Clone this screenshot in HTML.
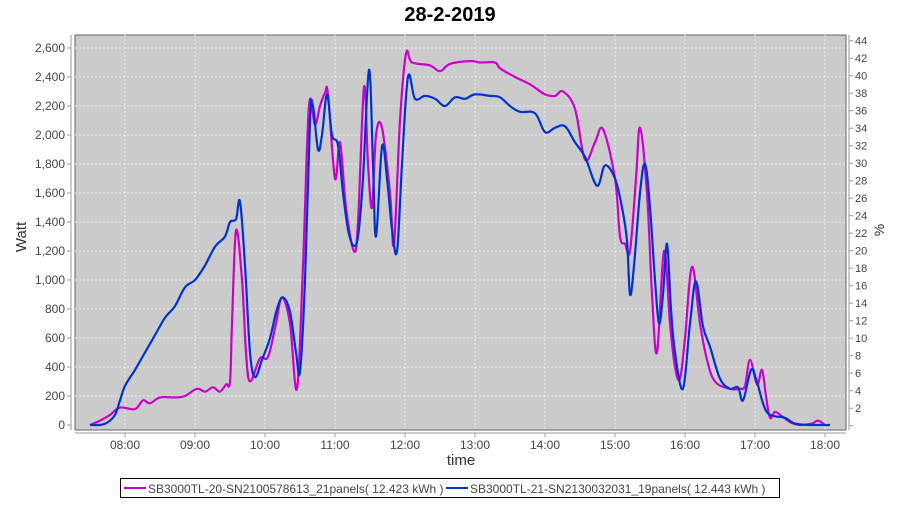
<!DOCTYPE html>
<html><head><meta charset="utf-8"><style>
body{margin:0;background:#fff;width:900px;height:500px;overflow:hidden;font-family:"Liberation Sans",sans-serif}
</style></head><body>
<svg id="s" width="900" height="500" xmlns="http://www.w3.org/2000/svg" font-family="Liberation Sans, sans-serif">
<text x="450" y="21" text-anchor="middle" font-size="20" font-weight="bold">28-2-2019</text>
<rect x="75" y="35" width="771" height="395" fill="#cbcbcb" stroke="#666" stroke-width="1"/>
<g id="grid" stroke="#eee" stroke-dasharray="2,2" stroke-width="1"></g>
<line x1="71" y1="35" x2="71" y2="430" stroke="#999"/>
<line x1="849" y1="35" x2="849" y2="430" stroke="#999"/>
<line x1="75" y1="433" x2="846" y2="433" stroke="#999"/>
<g id="lab" font-size="12" fill="#444"></g>
<text transform="translate(26,237) rotate(-90)" text-anchor="middle" font-size="15" fill="#333">Watt</text>
<text transform="translate(884,230) rotate(-90)" text-anchor="middle" font-size="14" fill="#333">%</text>
<text x="461" y="465" text-anchor="middle" font-size="15" fill="#333">time</text>
<path id="m" fill="none" stroke="#cc00cc" stroke-width="2.2" stroke-linejoin="round"/>
<path id="b" fill="none" stroke="#0033cc" stroke-width="2.2" stroke-linejoin="round"/>
<rect x="120.5" y="478.5" width="659" height="19" fill="#fff" stroke="#000"/>
<line x1="124" y1="488" x2="146" y2="488" stroke="#cc00cc" stroke-width="2"/>
<text x="148" y="493" font-size="12" fill="#444">SB3000TL-20-SN2100578613_21panels( 12.423 kWh )</text>
<line x1="446" y1="488" x2="468" y2="488" stroke="#0033cc" stroke-width="2"/>
<text x="470" y="493" font-size="12" fill="#444">SB3000TL-21-SN2130032031_19panels( 12.443 kWh )</text>
</svg>
<script>
var NS="http://www.w3.org/2000/svg",g=document.getElementById('grid'),L=document.getElementById('lab');
function el(p,t,a,txt){var e=document.createElementNS(NS,t);for(var k in a)e.setAttribute(k,a[k]);if(txt)e.textContent=txt;p.appendChild(e);return e;}
function Y(w){return 425-w*377/2600;}
for(var w=0;w<=2600;w+=200){var y=Y(w);if(w>0)el(g,'line',{x1:75,x2:846,y1:y,y2:y});
el(L,'line',{x1:67,x2:71,y1:y,y2:y,stroke:'#999'});
el(L,'text',{x:65,y:y+4,'text-anchor':'end'},w.toLocaleString('en-US'));}
for(var p=0;p<=44;p+=2){var y=425.7-p*(385/44);el(L,'line',{x1:849,x2:853,y1:y,y2:y,stroke:'#999'});
el(L,'text',{x:855,y:y+4,'font-size':11},p);}
for(var h=8;h<=18;h++){var x=125+(h-8)*70;el(g,'line',{x1:x,x2:x,y1:35,y2:430});
el(L,'line',{x1:x,x2:x,y1:433,y2:437,stroke:'#999'});
el(L,'text',{x:x,y:449,'text-anchor':'middle'},(h<10?'0':'')+h+':00');}
var B=[[90,0],[100,0],[108,20],[115,70],[120,170],[125,270],[135,380],[145,500],[155,620],[165,740],[175,820],[185,950],[195,1000],[205,1100],[215,1230],[225,1300],[230,1400],[236,1420],[240,1540],[245,1100],[250,500],[255,330],[262,450],[270,600],[277,800],[283,880],[290,780],[296,500],[300,370],[305,1000],[310,2100],[313,2200],[318,1900],[322,2000],[327,2280],[332,2000],[338,1930],[343,1600],[348,1350],[353,1240],[358,1300],[363,1700],[369,2450],[373,1800],[376,1300],[382,1920],[387,1700],[392,1350],[397,1200],[402,1800],[408,2400],[415,2250],[425,2270],[435,2250],[445,2200],[455,2260],[465,2250],[475,2280],[490,2270],[500,2260],[510,2200],[520,2160],[535,2150],[545,2020],[555,2050],[565,2060],[575,1950],[585,1850],[597,1650],[605,1790],[615,1700],[622,1500],[627,1270],[630,900],[634,1100],[640,1600],[645,1800],[650,1500],[655,1000],[659,700],[663,900],[667,1250],[671,800],[675,500],[683,250],[690,700],[696,990],[703,680],[710,540],[720,320],[730,250],[738,260],[743,170],[751,380],[756,320],[763,150],[768,80],[775,60],[785,50],[795,10],[810,0],[830,0]];
var M=[[90,0],[100,30],[110,70],[120,120],[135,110],[143,170],[150,150],[160,190],[175,190],[185,200],[197,250],[205,230],[213,260],[220,230],[226,280],[230,300],[232,700],[236,1340],[242,1000],[246,500],[250,300],[260,460],[268,470],[276,700],[282,880],[290,700],[297,250],[303,1100],[309,2200],[315,2070],[320,2200],[325,2290],[328,2280],[335,1700],[340,1950],[346,1500],[354,1200],[358,1400],[364,2330],[368,1800],[372,1500],[376,2000],[382,2050],[390,1600],[394,1250],[400,2100],[406,2560],[412,2500],[430,2480],[440,2440],[450,2490],[470,2510],[480,2500],[495,2500],[500,2460],[515,2400],[530,2350],[545,2280],[555,2270],[563,2300],[575,2180],[585,1830],[595,1950],[603,2040],[615,1700],[620,1300],[625,1250],[630,1200],[636,1700],[640,2050],[647,1600],[652,900],[657,500],[664,1200],[670,700],[675,400],[680,320],[685,600],[692,1090],[700,700],[707,450],[715,300],[730,250],[740,250],[745,270],[750,450],[757,280],[762,380],[766,200],[770,50],[775,90],[782,60],[790,20],[800,0],[812,10],[818,30],[825,0]];
function path(a){var P=a.map(function(p){return [p[0],Y(p[1])]});var d='M'+P[0][0]+','+P[0][1].toFixed(1);var t=0.35;
for(var i=0;i<P.length-1;i++){var p0=P[Math.max(i-1,0)],p1=P[i],p2=P[i+1],p3=P[Math.min(i+2,P.length-1)];
var c1x=p1[0]+(p2[0]-p0[0])*t/2,c1y=p1[1]+(p2[1]-p0[1])*t/2,c2x=p2[0]-(p3[0]-p1[0])*t/2,c2y=p2[1]-(p3[1]-p1[1])*t/2;
c1x=Math.min(Math.max(c1x,p1[0]),p2[0]);c2x=Math.min(Math.max(c2x,p1[0]),p2[0]);
c1y=Math.min(c1y,425);c2y=Math.min(c2y,425);
d+=' C'+c1x.toFixed(1)+','+c1y.toFixed(1)+' '+c2x.toFixed(1)+','+c2y.toFixed(1)+' '+p2[0]+','+p2[1].toFixed(1);}
return d;}
document.getElementById('b').setAttribute('d',path(B));
document.getElementById('m').setAttribute('d',path(M));
</script>
</body></html>
